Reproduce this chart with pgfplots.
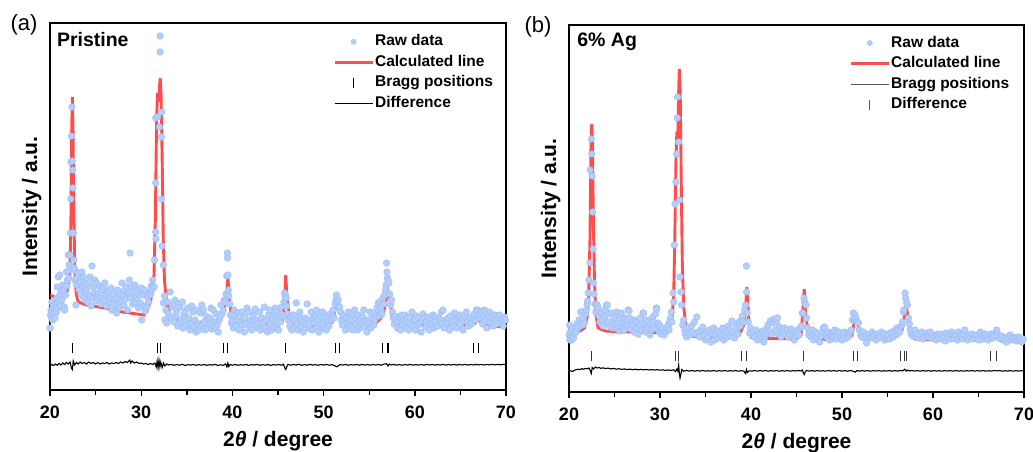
\documentclass[border=0pt]{standalone}
\usepackage{pgfplots}
\usepackage{pgfplotstable}
\pgfplotsset{compat=1.18}
\usepackage{fontspec}
\setmainfont{Liberation Sans}
\definecolor{rawfill}{RGB}{180,206,251}
\definecolor{rawdraw}{RGB}{156,189,246}
\definecolor{calcred}{RGB}{255,58,58}

\pgfplotstableread{
x y
20.02 62
20.05 75
20.1 80
20.15 73
20.2 88
20.25 78
20.3 70
20.35 84
20.4 76
20.5 80
20.55 72
20.6 86
20.7 78
20.75 92
20.8 103
20.85 82
20.9 113
21.0 88
21.05 115
21.1 96
21.2 84
21.25 99
21.3 90
21.4 105
21.5 100
21.55 83
21.6 80
21.7 95
21.8 118
21.85 104
21.9 110
22.0 135
22.05 112
22.1 125
22.15 120
22.2 135
22.25 157
22.28 191
22.3 228
22.35 254
22.4 283
22.45 229
22.48 220
22.5 202
22.55 157
22.6 130
22.65 122
22.7 120
22.75 110
22.85 85
22.9 105
23.0 112
23.1 117
23.2 100
23.3 108
23.4 96
23.5 118
23.6 104
23.65 113
23.7 92
23.8 108
23.9 98
24.0 100
24.1 88
24.2 106
24.3 95
24.4 113
24.5 84
24.6 124
24.7 92
24.75 103
24.85 97
24.9 110
25.0 89
25.1 107
25.2 94
25.3 97
25.4 104
25.5 92
25.6 86
25.7 100
25.85 103
25.9 90
26.0 107
26.1 95
26.2 84
26.3 99
26.4 97
26.5 88
26.6 93
26.7 102
26.8 80
26.9 87
27.0 96
27.1 84
27.2 91
27.3 77
27.4 100
27.5 90
27.6 82
27.7 96
27.8 88
27.9 107
28.0 94
28.1 85
28.2 100
28.3 91
28.4 103
28.5 80
28.6 97
28.7 110
28.78 137
28.85 92
28.95 103
29.05 86
29.15 98
29.3 105
29.4 88
29.5 92
29.6 99
29.7 82
29.8 95
29.9 87
30.0 102
30.05 70
30.15 95
30.25 84
30.35 100
30.45 79
30.6 83
30.7 93
30.8 88
30.9 97
31.0 95
31.1 104
31.15 100
31.25 110
31.3 103
31.41 103
31.45 130
31.59 158
31.63 151
31.59 207
31.59 272
31.81 273
32.0 263
32.07 354
32.07 338
32.25 278
32.22 253
32.22 191
32.29 144
32.44 125
32.43 87
32.55 94
32.6 70
32.7 80
32.8 67
32.9 88
33.0 76
33.16 98
33.3 72
33.4 83
33.5 85
33.6 68
33.7 90
33.8 74
33.9 78
34.0 64
34.1 86
34.25 83
34.35 70
34.4 67
34.5 88
34.6 62
34.7 75
34.8 78
34.9 68
35.0 65
35.1 82
35.2 72
35.35 60
35.45 66
35.55 84
35.7 78
35.8 63
35.9 70
36.0 58
36.1 80
36.2 66
36.3 60
36.45 77
36.55 64
36.65 85
36.8 80
36.9 68
37.0 60
37.1 74
37.2 62
37.35 70
37.45 66
37.55 72
37.65 82
37.75 61
37.9 80
38.0 68
38.1 62
38.25 76
38.35 65
38.45 58
38.55 70
38.65 73
38.75 85
38.85 76
39.0 80
39.1 90
39.2 88
39.3 96
39.38 114
39.45 137
39.47 132
39.5 115
39.55 100
39.6 94
39.7 86
39.8 75
39.9 67
40.0 70
40.1 62
40.2 80
40.3 75
40.4 64
40.5 70
40.65 77
40.75 60
40.85 68
41.0 78
41.1 65
41.2 72
41.3 58
41.4 72
41.5 66
41.6 82
41.75 78
41.9 63
42.0 70
42.1 60
42.2 68
42.3 75
42.4 65
42.5 81
42.65 70
42.75 62
42.85 66
43.0 78
43.1 60
43.2 72
43.3 64
43.4 67
43.5 83
43.6 62
43.75 70
43.85 58
43.95 75
44.1 80
44.2 65
44.3 60
44.4 71
44.5 75
44.6 63
44.7 82
44.85 78
44.95 66
45.05 60
45.15 72
45.25 68
45.35 76
45.4 83
45.55 74
45.65 88
45.73 97
45.8 95
45.85 92
45.9 92
45.95 84
46.05 76
46.15 70
46.3 64
46.4 73
46.5 60
46.6 69
46.7 75
46.8 62
46.9 70
47.0 87
47.1 66
47.2 60
47.3 74
47.4 78
47.5 64
47.6 70
47.75 58
47.85 68
48.0 72
48.1 65
48.2 86
48.3 62
48.4 70
48.5 66
48.65 78
48.75 60
48.85 72
49.0 67
49.1 74
49.2 80
49.3 62
49.4 70
49.5 58
49.6 73
49.7 66
49.9 78
50.0 62
50.1 68
50.2 75
50.3 60
50.4 70
50.5 73
50.6 64
50.7 76
50.85 70
50.95 74
51.05 80
51.15 72
51.25 86
51.35 90
51.4 95
51.5 88
51.6 90
51.7 82
51.75 83
51.85 78
51.95 70
52.05 65
52.15 74
52.3 70
52.4 60
52.5 72
52.6 66
52.7 78
52.8 62
52.9 70
53.0 64
53.1 76
53.2 60
53.3 68
53.4 80
53.5 66
53.6 72
53.7 60
53.8 75
53.9 69
54.0 62
54.1 72
54.2 66
54.3 73
54.4 80
54.5 64
54.6 70
54.75 58
54.9 70
55.0 66
55.1 78
55.2 62
55.3 72
55.4 77
55.5 65
55.6 70
55.75 75
55.85 82
56.0 87
56.1 74
56.15 88
56.3 80
56.4 76
56.5 92
56.6 86
56.7 95
56.8 100
56.85 105
56.9 127
56.95 118
57.0 112
57.05 110
57.15 107
57.25 96
57.35 85
57.45 90
57.55 78
57.65 72
57.75 66
57.85 74
58.0 70
58.1 62
58.2 68
58.35 73
58.45 60
58.55 75
58.65 66
58.75 70
58.9 75
59.0 62
59.1 68
59.2 72
59.35 60
59.45 73
59.55 66
59.7 78
59.8 64
59.9 70
60.0 70
60.1 60
60.2 74
60.35 65
60.45 72
60.55 67
60.7 58
60.8 70
60.9 76
61.1 72
61.2 63
61.3 68
61.45 73
61.6 60
61.7 70
61.85 66
62.0 75
62.1 62
62.2 73
62.35 68
62.5 64
62.65 72
62.8 70
62.9 78
63.0 66
63.1 80
63.2 62
63.35 70
63.5 67
63.65 72
63.8 60
63.9 74
64.05 68
64.2 64
64.35 77
64.5 70
64.6 62
64.75 72
64.9 75
65.0 66
65.15 71
65.3 60
65.45 74
65.65 78
65.75 68
65.9 64
66.05 72
66.2 66
66.4 73
66.5 76
66.65 70
66.75 80
66.9 80
67.05 75
67.15 72
67.3 78
67.45 66
67.55 74
67.65 80
67.8 70
67.9 62
68.05 75
68.2 78
68.3 68
68.45 72
68.6 64
68.75 75
68.85 70
69.0 66
69.15 74
69.3 75
69.4 68
69.55 71
69.7 64
69.85 73
69.95 70
}\rawA

\pgfplotstableread{
x y
20.0 95
21.2 90
21.8 97
22.0 103
22.1 110
22.2 123
22.3 175
22.38 260
22.45 293
22.52 265
22.6 190
22.7 128
22.8 104
22.9 95
23.1 88
24.0 85
26.0 82
28.0 78
30.3 75
30.8 83
31.0 88
31.2 97
31.4 115
31.55 170
31.68 265
31.78 297
31.88 288
31.98 300
32.08 312
32.18 295
32.3 230
32.42 150
32.55 110
32.75 90
33.0 80
33.3 73
34.0 70
36.0 68
37.5 67
37.7 69
38.0 67
38.8 72
39.1 82
39.3 90
39.5 113
39.7 90
39.9 72
40.3 67
42.0 65
45.0 65
45.5 70
45.7 90
45.85 115
46.0 90
46.3 70
46.8 65
50.0 64
51.0 68
51.3 83
51.45 92
51.7 85
51.9 77
52.3 67
53.0 64
55.5 65
56.3 72
56.6 78
56.9 93
57.05 100
57.3 90
57.5 73
58.0 66
60.0 65
66.0 65
66.4 68
66.6 67
67.0 71
67.3 67
68.0 64
70.0 63
}\calcA

\pgfplotstableread{
x y
20.0 24
20.2 25.5
20.4 24.5
20.6 26
20.8 24.8
21.0 26.5
21.2 25
21.4 27
21.6 25.5
21.8 27.5
22.0 26
22.2 28
22.35 22
22.45 20.5
22.55 29
22.7 25
22.9 27.5
23.1 26
23.3 28
23.5 26.5
23.75 27.5
24.0 26
24.25 28
24.5 26.5
24.75 27.5
25.0 26
25.25 27.5
25.5 26
25.75 27
26.0 26.5
26.25 27.5
26.5 26
26.75 27
27.0 26.5
27.25 27.5
27.5 26.5
27.75 28
28.0 27
28.25 28.5
28.5 27.5
28.75 30
28.85 27
29.0 29
29.25 27
29.5 28
29.75 26.5
30.0 27
30.25 26
30.5 26.5
30.75 25.5
31.0 26.5
31.25 25.5
31.5 27
31.65 23
31.75 29
31.85 22
31.95 30
32.05 23
32.15 28
32.3 22.5
32.45 27
32.6 24
32.8 26
33.0 25
33.3 25.6
33.6 24.7
33.9 25.4
34.2 24.8
34.5 25.7
34.8 24.5
35.1 25.3
35.4 24.9
35.7 25.6
36.0 24.6
36.3 25.4
36.6 24.8
36.9 25.5
37.2 24.7
37.5 25.3
37.8 24.9
38.1 25.6
38.4 24.6
38.7 25.2
39.0 24.6
39.25 26
39.4 23
39.5 27
39.6 23.5
39.75 25.5
40.0 24.8
40.3 25.5
40.6 24.7
40.9 25.3
41.2 24.8
41.5 25.6
41.8 24.6
42.1 25.4
42.4 24.9
42.7 25.6
43.0 24.7
43.3 25.3
43.6 24.8
43.9 25.5
44.2 24.6
44.5 25.4
44.8 24.9
45.1 25.5
45.4 24.8
45.6 25.8
45.75 22
45.85 20.5
45.95 23
46.1 25.6
46.4 24.8
46.7 25.5
47.0 24.9
47.3 25.7
47.6 24.7
47.9 25.4
48.2 24.8
48.5 25.6
48.8 24.9
49.1 25.4
49.4 24.7
49.7 25.5
50.0 24.9
50.3 25.6
50.6 24.8
50.9 25.3
51.2 24.5
51.4 23.2
51.6 24
51.8 25.5
52.1 24.9
52.4 25.6
52.7 24.7
53.0 25.4
53.3 24.9
53.6 25.5
53.9 24.8
54.2 25.6
54.5 24.9
54.8 25.4
55.1 24.8
55.4 25.6
55.7 24.9
56.0 25.5
56.3 24.8
56.6 25.8
56.9 26.3
57.05 24
57.2 26
57.4 25
57.7 25.6
58.0 24.9
58.3 25.4
58.6 24.8
58.9 25.5
59.2 24.9
59.5 25.6
59.8 24.8
60.1 25.4
60.4 24.9
60.7 25.5
61.0 24.8
61.3 25.6
61.6 25.0
61.9 25.5
62.2 24.9
62.5 25.4
62.8 25.0
63.1 25.6
63.4 24.9
63.7 25.4
64.0 25.0
64.3 25.6
64.6 24.9
64.9 25.5
65.2 25.0
65.5 25.6
65.8 24.9
66.1 25.5
66.4 25.0
66.7 25.6
67.0 25.1
67.3 25.6
67.6 25.0
67.9 25.5
68.2 25.1
68.5 25.7
68.8 25.1
69.1 25.6
69.4 25.2
69.7 25.7
70.0 25.4
}\diffA

\pgfplotstableread{
x y
20.02 57
20.07 67
20.1 52
20.15 60
20.2 55
20.26 52
20.3 63
20.4 58
20.5 54
20.6 59
20.7 65
20.8 60
20.9 68
20.99 64
21.1 72
21.2 66
21.3 80
21.35 80
21.45 70
21.5 67
21.6 74
21.7 69
21.8 78
21.9 82
22.0 88
22.05 91
22.1 99
22.2 112
22.3 129
22.32 222
22.45 253
22.5 238
22.55 216
22.6 180
22.65 143
22.68 109
22.75 98
22.85 88
22.95 80
23.0 87
23.1 87
23.2 84
23.3 76
23.4 70
23.55 79
23.65 72
23.75 66
23.9 75
24.0 82
24.1 87
24.2 87
24.3 70
24.4 78
24.5 66
24.65 79
24.75 64
24.85 71
25.0 74
25.1 68
25.2 80
25.3 63
25.4 69
25.5 76
25.6 61
25.75 79
25.85 66
25.93 70
26.05 62
26.15 74
26.3 67
26.4 72
26.5 82
26.6 81
26.67 74
26.8 63
26.9 70
27.03 67
27.15 60
27.25 72
27.4 64
27.5 70
27.6 58
27.75 66
27.85 74
28.0 62
28.13 79
28.2 79
28.3 68
28.4 60
28.5 72
28.6 66
28.68 64
28.8 70
28.9 57
29.0 68
29.1 62
29.2 75
29.3 70
29.4 64
29.5 78
29.6 84
29.65 83
29.78 69
29.9 60
30.0 66
30.1 58
30.2 62
30.3 64
30.45 57
30.6 60
30.75 64
30.9 67
31.0 62
31.06 70
31.15 74
31.25 80
31.3 70
31.43 99
31.5 90
31.57 147
31.65 188
31.75 210
31.83 238
31.9 274
31.94 295
32.05 250
32.16 192
32.2 115
32.3 100
32.38 87
32.5 67
32.6 72
32.7 62
32.8 58
32.9 55
33.0 64
33.15 59
33.3 57
33.45 66
33.6 60
33.8 70
33.9 58
34.05 75
34.2 60
34.35 55
34.5 62
34.7 65
34.85 57
35.0 52
35.15 60
35.27 55
35.45 62
35.6 50
35.75 58
35.9 64
36.0 52
36.15 57
36.3 61
36.45 54
36.6 60
36.75 56
36.9 64
37.0 52
37.1 57
37.25 60
37.4 55
37.5 66
37.65 62
37.8 56
37.9 71
38.0 59
38.2 54
38.3 68
38.4 64
38.55 58
38.7 70
38.8 66
38.94 72
39.05 76
39.15 70
39.3 82
39.41 87
39.49 126
39.52 100
39.6 79
39.7 70
39.85 59
39.95 64
40.1 56
40.25 60
40.4 55
40.55 62
40.7 52
40.85 58
40.95 59
41.1 55
41.25 61
41.4 50
41.5 55
41.65 58
41.75 64
41.87 67
42.0 60
42.1 71
42.25 58
42.4 69
42.5 73
42.65 62
42.8 70
42.9 74
43.0 58
43.15 65
43.3 55
43.45 62
43.55 60
43.7 64
43.85 57
44.0 62
44.1 55
44.25 58
44.4 63
44.6 59
44.75 52
44.9 56
45.0 60
45.1 62
45.25 57
45.4 64
45.55 66
45.62 79
45.71 79
45.82 94
45.9 90
46.04 87
46.1 74
46.2 64
46.35 57
46.5 60
46.6 55
46.75 62
46.85 52
47.0 57
47.1 60
47.25 54
47.4 58
47.55 50
47.7 56
47.85 60
47.95 64
48.05 65
48.1 64
48.25 57
48.4 54
48.5 60
48.65 52
48.75 58
48.9 57
49.05 55
49.2 62
49.3 53
49.4 59
49.55 56
49.7 60
49.85 54
50.0 52
50.15 57
50.3 60
50.4 54
50.55 58
50.7 55
50.85 59
51.0 62
51.14 72
51.25 79
51.35 73
51.43 77
51.5 74
51.6 70
51.68 70
51.8 69
51.9 62
52.05 57
52.2 55
52.35 60
52.5 54
52.6 57
52.7 49
52.85 55
53.0 58
53.15 54
53.3 60
53.45 56
53.6 57
53.75 52
53.9 58
54.05 55
54.2 55
54.35 60
54.55 57
54.7 52
54.85 58
55.0 54
55.1 57
55.25 53
55.35 59
55.5 60
55.65 55
55.8 61
55.9 58
56.0 64
56.1 58
56.2 62
56.35 60
56.5 66
56.56 67
56.65 70
56.75 80
56.8 82
56.93 99
57.0 94
57.1 89
57.18 87
57.3 74
57.4 68
57.5 62
57.6 58
57.75 56
57.9 60
58.03 62
58.15 55
58.3 58
58.45 54
58.6 57
58.75 60
58.9 53
59.05 58
59.2 56
59.3 59
59.45 55
59.6 58
59.7 60
59.85 54
60.0 57
60.2 55
60.35 52
60.5 58
60.65 54
60.8 57
60.95 53
61.1 58
61.25 55
61.35 51
61.5 59
61.65 55
61.8 57
61.95 53
62.05 60
62.2 56
62.35 54
62.5 57
62.65 52
62.8 60
62.95 55
63.1 57
63.25 53
63.35 58
63.5 62
63.65 55
63.8 52
63.95 57
64.1 55
64.25 58
64.4 53
64.6 57
64.75 54
64.9 57
65.05 52
65.2 60
65.35 56
65.5 53
65.65 58
65.8 54
65.9 57
66.05 52
66.2 56
66.35 58
66.45 55
66.6 54
66.75 57
66.9 60
67.0 62
67.1 58
67.25 55
67.4 53
67.55 56
67.7 52
67.9 54
68.05 50
68.2 55
68.35 53
68.5 57
68.65 52
68.8 54
69.0 54
69.15 51
69.3 55
69.45 52
69.6 54
69.75 50
69.9 53
}\rawB

\pgfplotstableread{
x y
20.0 61
21.2 61
21.7 64
22.0 75
22.15 92
22.3 150
22.42 250
22.5 268
22.58 245
22.68 170
22.8 110
22.95 78
23.2 64
24.0 61
26.0 60
28.0 60
30.5 59
31.0 64
31.3 72
31.5 95
31.62 150
31.75 230
31.85 260
31.95 252
32.05 300
32.12 323
32.22 300
32.32 220
32.45 130
32.6 85
32.9 62
33.5 56
35.0 54
37.5 54
37.7 56
38.0 54
38.8 59
39.2 67
39.4 85
39.55 105
39.75 72
40.0 57
40.5 54
45.0 53
45.5 57
45.7 82
45.85 103
46.0 79
46.3 57
47.0 53
50.5 52
51.1 57
51.35 70
51.5 76
51.75 67
52.0 59
52.5 53
55.5 53
56.3 59
56.6 62
56.9 79
57.05 87
57.3 72
57.5 57
58.0 53
60.0 52
66.0 52
66.4 55
66.6 54
67.05 58
67.3 54
68.0 52
70.0 49
}\calcB

\pgfplotstableread{
x y
20.0 20.5
20.2 21.2
20.4 20.6
20.6 21.8
20.8 22.3
21.0 22.8
21.2 22.4
21.4 23.4
21.6 22.8
21.8 23.6
22.0 23.2
22.2 24
22.35 21
22.45 18.5
22.55 24.5
22.7 23
22.9 25
23.1 24
23.3 24.6
23.5 23.6
23.75 24.2
24.0 23.4
24.3 23.9
24.6 23.1
24.9 23.6
25.2 22.8
25.5 23.3
25.8 22.6
26.1 23.1
26.4 22.4
26.7 22.9
27.0 22.3
27.3 22.8
27.6 22.2
27.9 22.7
28.2 22.1
28.5 22.6
28.8 22.0
29.1 22.5
29.4 21.9
29.7 22.4
30.0 21.8
30.3 22.2
30.6 21.6
30.9 22.1
31.2 21.5
31.5 22.2
31.7 20.5
31.85 23
31.95 21
32.05 27
32.12 19
32.2 14
32.3 18
32.4 22.5
32.6 20.8
32.9 21.6
33.2 20.9
33.5 21.5
33.8 20.8
34.1 21.4
34.4 20.9
34.7 21.6
35.0 20.8
35.3 21.3
35.6 20.9
35.9 21.5
36.2 20.8
36.5 21.4
36.8 20.9
37.1 21.5
37.4 20.8
37.7 21.3
38.0 20.9
38.3 21.5
38.6 20.8
38.9 21.3
39.2 21
39.4 18.5
39.5 22.5
39.6 19.5
39.8 21.2
40.1 20.9
40.4 21.5
40.7 20.8
41.0 21.4
41.3 20.9
41.6 21.5
41.9 20.8
42.2 21.4
42.5 20.9
42.8 21.5
43.1 20.8
43.4 21.3
43.7 20.9
44.0 21.5
44.3 20.8
44.6 21.4
44.9 21.0
45.2 21.5
45.5 21.0
45.65 22
45.75 19
45.85 17.5
45.95 20
46.1 21.6
46.4 20.9
46.7 21.4
47.0 20.8
47.3 21.5
47.6 20.9
47.9 21.3
48.2 20.8
48.5 21.5
48.8 20.9
49.1 21.4
49.4 20.8
49.7 21.5
50.0 20.9
50.3 21.4
50.6 20.8
50.9 21.5
51.2 20.9
51.45 19.8
51.65 21.5
51.9 20.8
52.2 21.4
52.5 20.9
52.8 21.5
53.1 20.8
53.4 21.4
53.7 20.9
54.0 21.5
54.3 20.8
54.6 21.3
54.9 20.9
55.2 21.5
55.5 20.8
55.8 21.4
56.1 20.9
56.4 21.5
56.7 21.2
56.9 22.8
57.05 20.8
57.2 22
57.4 21.0
57.7 21.5
58.0 20.9
58.3 21.4
58.6 20.8
58.9 21.5
59.2 20.9
59.5 21.4
59.8 20.8
60.1 21.5
60.4 20.9
60.7 21.3
61.0 20.8
61.3 21.5
61.6 20.9
61.9 21.4
62.2 20.8
62.5 21.5
62.8 20.9
63.1 21.3
63.4 20.8
63.7 21.4
64.0 20.9
64.3 21.5
64.6 20.8
64.9 21.4
65.2 20.9
65.5 21.5
65.8 20.8
66.1 21.3
66.4 20.9
66.7 21.5
67.0 21.1
67.3 21.4
67.6 20.8
67.9 21.3
68.2 20.9
68.5 21.4
68.8 20.8
69.1 21.3
69.4 20.9
69.7 21.3
70.0 20.9
}\diffB

\pgfplotsset{
  xrdaxis/.style={
    scale only axis, width=456pt, height=367pt,
    xmin=20, xmax=70, ymin=0, ymax=367,
    xtick={20,30,...,70}, minor xtick={25,35,45,55,65},
    ytick=\empty, xtick pos=bottom, tick align=outside,
    major tick length=6pt, minor tick length=5pt,
    every tick/.style={black, line width=1.4pt},
    axis line style={line width=2.2pt},
    /pgf/number format/assume math mode=true,
    tick label style={font=\fontsize{18}{20}\selectfont\bfseries},
    xticklabel style={yshift=-6pt},
    label style={font=\fontsize{21}{24}\selectfont\bfseries},
    xlabel={2\textit{θ} / degree}, ylabel={Intensity / a.u.},
    x label style={at={(axis description cs:0.5,-0.138)}, anchor=center},
    y label style={at={(axis description cs:-0.04,0.5)}, anchor=center},
    legend style={draw=none, fill=none, anchor=north west,
      font=\fontsize{15.5}{17}\selectfont\bfseries, row sep=3.6pt,
      nodes={inner sep=1pt, text height=11.5pt, text depth=3.5pt},
      cells={anchor=west}},
  },
  rawstyle/.style={only marks, mark=*, mark size=3.3pt,
    mark options={fill=rawfill, draw=rawdraw, line width=0.5pt}},
  calcstyle/.style={calcred, line width=2.9pt, opacity=0.9},
}

\begin{document}
\begin{tikzpicture}
\path[use as bounding box] (0pt,0pt) rectangle (1033pt,451pt);

\begin{axis}[xrdaxis, at={(50pt,61pt)}, anchor=south west,
  legend style={at={(rel axis cs:0.614,0.978)}}]
\addplot[rawstyle, forget plot] table {\rawA};
\addplot[calcstyle, forget plot] table {\calcA};
\addplot[black, line width=1.1pt, forget plot] table {\diffA};
\addplot[only marks, mark=|, mark size=5pt, black, line width=0.9pt, forget plot] coordinates {
(22.45,42) (31.8,42) (32.1,42) (39.0,42) (39.5,42) (45.8,42) (51.35,42) (51.75,42)
(56.5,42) (57.0,42) (57.15,42) (66.4,42) (67.0,42)};
\addlegendimage{legend image code/.code={\fill[rawfill, draw=rawdraw, line width=0.4pt] (19pt,0pt) circle (2.6pt);}}
\addlegendentry{Raw data}
\addlegendimage{legend image code/.code={\draw[calcred, line width=2.9pt, opacity=0.9] (0pt,0pt) -- (38pt,0pt);}}
\addlegendentry{Calculated line}
\addlegendimage{legend image code/.code={\draw[black, line width=1pt] (19pt,-5pt) -- (19pt,5pt);}}
\addlegendentry{Bragg positions}
\addlegendimage{legend image code/.code={\draw[black, line width=1pt] (0pt,0pt) -- (38pt,0pt);}}
\addlegendentry{Difference}
\node[anchor=west, inner sep=0pt, font=\fontsize{19.5}{21}\selectfont\bfseries] at (rel axis cs:0.015,0.956) {Pristine};
\end{axis}

\begin{axis}[xrdaxis, at={(569pt,59pt)}, anchor=south west, width=455pt,
  legend style={at={(rel axis cs:0.609,0.98)}}]
\addplot[rawstyle, forget plot] table {\rawB};
\addplot[calcstyle, forget plot] table {\calcB};
\addplot[black, line width=1.1pt, forget plot] table {\diffB};
\addplot[only marks, mark=|, mark size=5pt, black!80, line width=0.9pt, forget plot] coordinates {
(22.45,36) (31.75,36) (32.0,36) (38.95,36) (39.5,36) (45.75,36) (51.3,36) (51.7,36)
(56.45,36) (56.9,36) (57.07,36) (66.35,36) (66.95,36)};
\addlegendimage{legend image code/.code={\fill[rawfill, draw=rawdraw, line width=0.4pt] (19pt,0pt) circle (2.6pt);}}
\addlegendentry{Raw data}
\addlegendimage{legend image code/.code={\draw[calcred, line width=2.9pt, opacity=0.9] (0pt,0pt) -- (38pt,0pt);}}
\addlegendentry{Calculated line}
\addlegendimage{legend image code/.code={\draw[black!65, line width=1.2pt] (0pt,0pt) -- (38pt,0pt);}}
\addlegendentry{Bragg positions}
\addlegendimage{legend image code/.code={\draw[black!65, line width=1.2pt] (19pt,-5pt) -- (19pt,5pt);}}
\addlegendentry{Difference}
\node[anchor=west, inner sep=0pt, font=\fontsize{19.5}{21}\selectfont\bfseries] at (rel axis cs:0.018,0.954) {6\% Ag};
\end{axis}

\node[font=\fontsize{22}{24}\selectfont] at (24pt,426pt) {(a)};
\node[font=\fontsize{22}{24}\selectfont] at (538pt,424pt) {(b)};
\end{tikzpicture}
\end{document}
